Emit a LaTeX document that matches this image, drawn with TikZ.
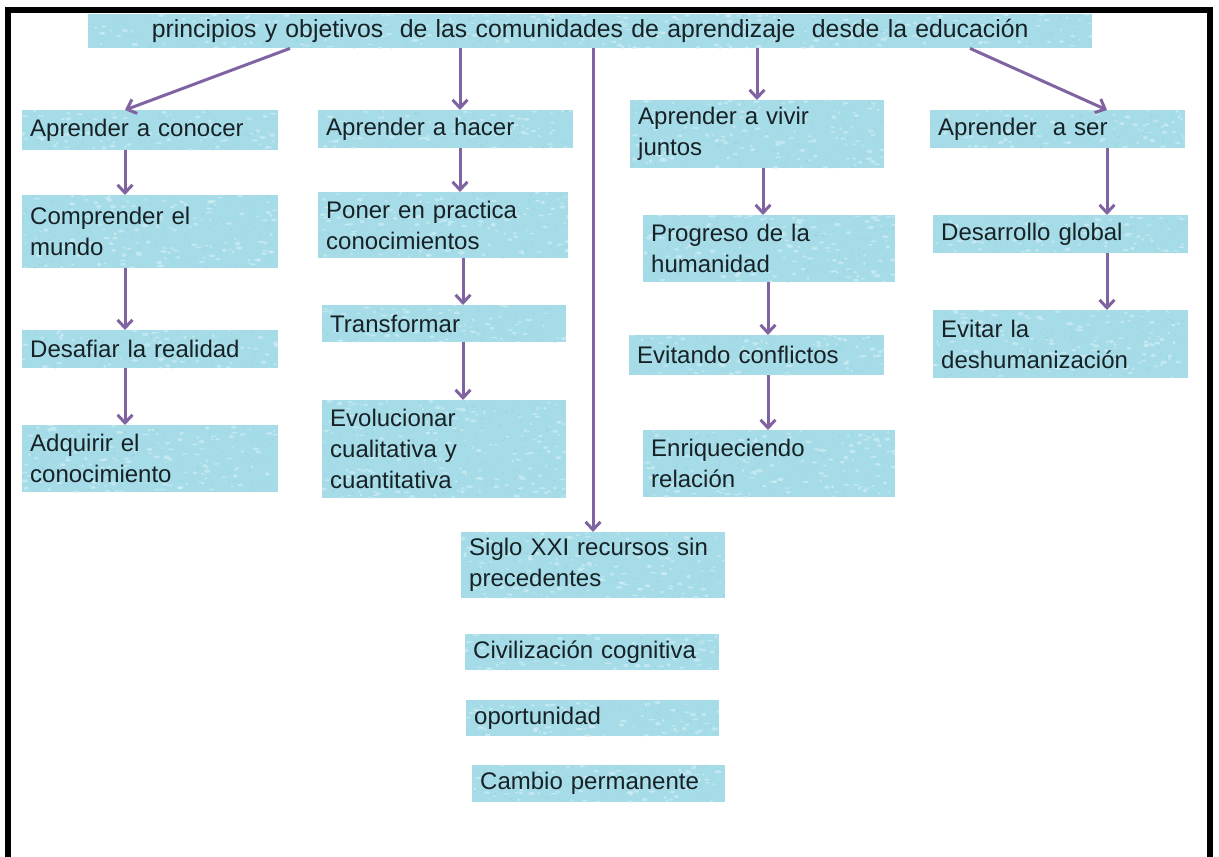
\documentclass[tikz,border=0pt]{standalone}
\usepackage{fontspec}
\setmainfont{Liberation Sans}
\usetikzlibrary{arrows.meta,calc}
\definecolor{boxfill}{RGB}{166,220,232}
\definecolor{specklight}{RGB}{212,240,246}
\definecolor{speckdark}{RGB}{140,202,218}
\definecolor{linkcol}{RGB}{128,100,162}
\definecolor{ink}{RGB}{22,34,38}
\pgfmathsetseed{42}
% mottled texture drawn inside each box
\newcommand\boxspeckle{%
  \pgfpointanchor{path picture bounding box}{south west}\pgfgetlastxy{\spxa}{\spya}%
  \pgfpointanchor{path picture bounding box}{north east}\pgfgetlastxy{\spxb}{\spyb}%
  \pgfmathtruncatemacro\spn{((\spxb-\spxa)/12)*((\spyb-\spya)/10)}%
  \foreach \k in {1,...,\spn}{%
    \pgfmathsetmacro\spx{\spxa+rnd*(\spxb-\spxa)}%
    \pgfmathsetmacro\spy{\spya+rnd*(\spyb-\spya)}%
    \pgfmathsetmacro\spr{1+2.5*rnd}%
    \pgfmathsetmacro\sps{0.6+1.2*rnd}%
    \pgfmathsetmacro\spt{180*rnd}%
    \fill[specklight, opacity=0.6, rotate around={\spt:(\spx pt,\spy pt)}]
      (\spx pt,\spy pt) ellipse [x radius=\spr pt, y radius=\sps pt];
    \pgfmathsetmacro\spx{\spxa+rnd*(\spxb-\spxa)}%
    \pgfmathsetmacro\spy{\spya+rnd*(\spyb-\spya)}%
    \fill[speckdark, opacity=0.35] (\spx pt,\spy pt) circle [radius=1pt];
  }%
}
\begin{document}
\begin{tikzpicture}[x=1pt,y=-1pt,
  box/.style={fill=boxfill, text=ink, font=\fontsize{24}{31}\selectfont,
    align=left, text width=#1, inner xsep=8pt, inner ysep=0pt,
    anchor=north west, path picture={\boxspeckle}},
  link/.style={draw=linkcol, line width=3pt,
    -{Straight Barb[length=8pt,width=15pt]}},
  frame/.style={draw=black, line width=6pt}]
\useasboundingbox (0,0) rectangle (1219,857);

% outer frame (open at the bottom)
\draw[frame] (8,857) -- (8,10) -- (1210,10) -- (1210,857);

% title
\node[box=988, align=center, minimum height=34,
      font=\fontsize{24.8}{31}\selectfont] (title) at (88,14)
  {principios y objetivos\ \ de las comunidades de aprendizaje\ \ desde la educación};

% column 1
\node[box=240, minimum height=40] (a1) at (22,110) {Aprender a conocer};
\node[box=240, minimum height=73] (a2) at (22,195) {Comprender el\\mundo};
\node[box=240, minimum height=38] (a3) at (22,330) {Desafiar la realidad};
\node[box=240, minimum height=67] (a4) at (22,425) {Adquirir el\\conocimiento};

% column 2
\node[box=239, minimum height=38] (b1) at (318,110) {Aprender a hacer};
\node[box=234, minimum height=66] (b2) at (318,192) {Poner en practica\\conocimientos};
\node[box=228, minimum height=37] (b3) at (322,305) {Transformar};
\node[box=228, minimum height=98] (b4) at (322,400) {Evolucionar\\cualitativa y\\cuantitativa};

% column 3
\node[box=238, minimum height=68] (c1) at (630,100) {Aprender a vivir\\juntos};
\node[box=236, minimum height=67] (c2) at (643,215) {Progreso de la\\humanidad};
\node[box=239, minimum height=40] (c3) at (629,335) {Evitando conflictos};
\node[box=236, minimum height=67] (c4) at (643,430) {Enriqueciendo\\relación};

% column 4
\node[box=239, minimum height=38] (d1) at (930,110) {Aprender\ \ a ser};
\node[box=239, minimum height=38] (d2) at (933,215) {Desarrollo global};
\node[box=239, minimum height=68] (d3) at (933,310) {Evitar la\\deshumanización};

% centre stack
\node[box=248, minimum height=66] (s1) at (461,532) {Siglo XXI recursos sin\\precedentes};
\node[box=238, minimum height=36] (s2) at (465,634) {Civilización cognitiva};
\node[box=237, minimum height=36] (s3) at (466,700) {oportunidad};
\node[box=237, minimum height=37] (s4) at (472,765) {Cambio permanente};

% arrow axes
\coordinate (tA) at (290,0);
\coordinate (xA) at (125,0);
\coordinate (xB) at (460,0);
\coordinate (xB2) at (463,0);
\coordinate (xS) at (593,0);
\coordinate (xC) at (757,0);
\coordinate (xC2) at (763,0);
\coordinate (xC3) at (768,0);
\coordinate (tD) at (970,0);
\coordinate (xD) at (1107,0);

% links from the title
\draw[link] (title.south -| tA) -- (a1.north -| xA);
\draw[link] (title.south -| xB) -- (b1.north -| xB);
\draw[link] (title.south -| xS) -- (s1.north -| xS);
\draw[link] (title.south -| xC) -- (c1.north -| xC);
\draw[link] (title.south -| tD) -- (d1.north -| xD);

% column links
\draw[link] (a1.south -| xA) -- (a2.north -| xA);
\draw[link] (a2.south -| xA) -- (a3.north -| xA);
\draw[link] (a3.south -| xA) -- (a4.north -| xA);

\draw[link] (b1.south -| xB) -- (b2.north -| xB);
\draw[link] (b2.south -| xB2) -- (b3.north -| xB2);
\draw[link] (b3.south -| xB2) -- (b4.north -| xB2);

\draw[link] (c1.south -| xC2) -- (c2.north -| xC2);
\draw[link] (c2.south -| xC3) -- (c3.north -| xC3);
\draw[link] (c3.south -| xC3) -- (c4.north -| xC3);

\draw[link] (d1.south -| xD) -- (d2.north -| xD);
\draw[link] (d2.south -| xD) -- (d3.north -| xD);
\end{tikzpicture}
\end{document}
